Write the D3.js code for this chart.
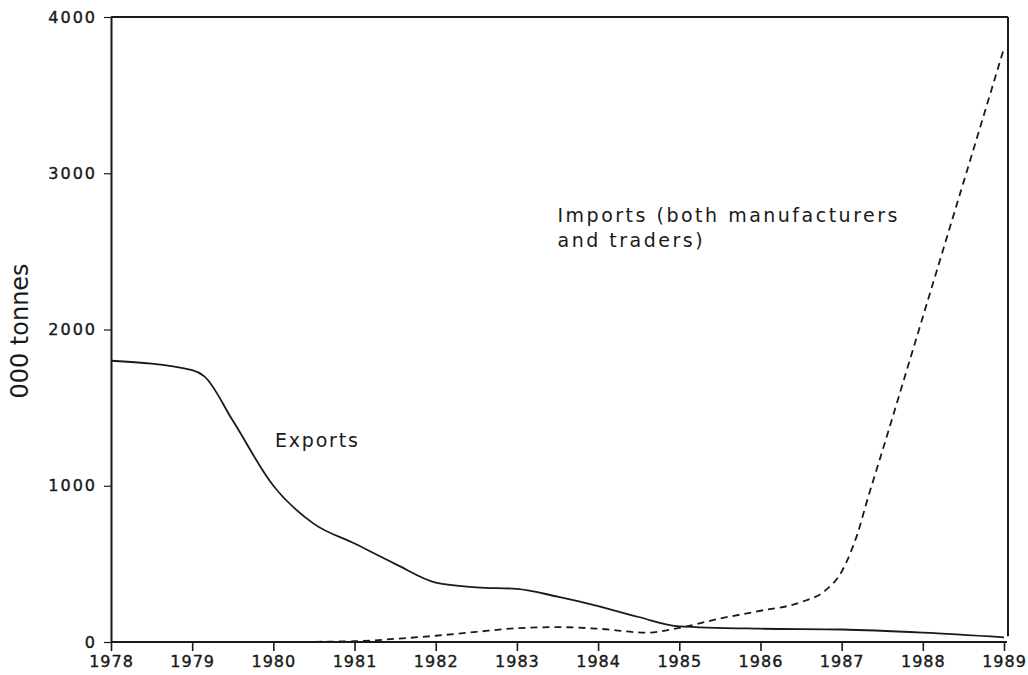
<!DOCTYPE html>
<html>
<head>
<meta charset="utf-8">
<script src="https://cdn.jsdelivr.net/npm/d3@7"></script>
<style>
  body { margin: 0; background: #fff; }
  text { font-family: "DejaVu Sans", sans-serif; fill: #1a1a1a; }
</style>
</head>
<body>
<div id="chart"></div>
<script>
// data (000 tonnes)
var exportYears = [1978, 1979, 1979.15, 1979.5, 1980, 1980.5, 1981, 1981.5, 1982, 1982.5, 1983, 1983.5, 1984, 1984.5, 1985, 1986, 1987, 1988, 1989];
var exportValues = [1800, 1740, 1700, 1417, 1000, 756, 630, 500, 380, 350, 340, 290, 230, 160, 100, 85, 80, 60, 30];

var importYears = [1978, 1979, 1980, 1981, 1981.5, 1982, 1982.5, 1983, 1983.5, 1984, 1984.6, 1985, 1985.5, 1986, 1986.5, 1986.8, 1987, 1987.1, 1987.2, 1987.3, 1987.5, 1988, 1988.5, 1989];
var importValues = [0, 0, 0, 5, 20, 40, 65, 88, 95, 85, 60, 90, 150, 200, 255, 330, 450, 560, 700, 880, 1220, 2080, 2940, 3800];

var xTicks = [1978, 1979, 1980, 1981, 1982, 1983, 1984, 1985, 1986, 1987, 1988, 1989];
var yTicks = [0, 1000, 2000, 3000, 4000];

var svgWidth = 1028;
var svgHeight = 675;

var margin = { top: 17, right: 24, bottom: 33, left: 111 };
var width = svgWidth - margin.left - margin.right;
var height = svgHeight - margin.top - margin.bottom;

var svg = d3.select("#chart")
  .append("svg")
  .attr("width", svgWidth)
  .attr("height", svgHeight);

var chartGroup = svg.append("g")
  .attr("transform", `translate(${margin.left}, ${margin.top})`);

var x = d3.scaleLinear().domain([1978, 1989]).range([0, 893]);
var y = d3.scaleLinear().domain([0, 4000]).range([height, 0]);

// axes
var bottomAxis = d3.axisBottom(x)
  .tickValues(xTicks)
  .tickFormat(d3.format("d"))
  .tickSize(9)
  .tickSizeOuter(0);

var leftAxis = d3.axisLeft(y)
  .tickValues(yTicks)
  .tickFormat(d3.format("d"))
  .tickSize(7)
  .tickSizeOuter(0);

var xAxis = chartGroup.append("g")
  .attr("transform", `translate(0, ${height})`)
  .call(bottomAxis);

var yAxis = chartGroup.append("g")
  .call(leftAxis);

xAxis.select(".domain").attr("stroke", "#1a1a1a").attr("stroke-width", 2)
  .attr("d", `M0,0H${x(1989) + 3}`);
yAxis.select(".domain").attr("stroke", "#1a1a1a").attr("stroke-width", 2);

xAxis.selectAll(".tick line").attr("stroke", "#1a1a1a").attr("stroke-width", 1.6);
yAxis.selectAll(".tick line").attr("stroke", "#1a1a1a").attr("stroke-width", 1.2);

// tick labels look a little heavier in the original
xAxis.selectAll(".tick text")
  .attr("y", 14)
  .attr("dy", "0.71em")
  .style("font-size", "16px")
  .style("letter-spacing", "1px")
  .style("stroke", "#1a1a1a")
  .style("stroke-width", "0.4px");

yAxis.selectAll(".tick text")
  .attr("x", -14)
  .style("font-size", "16px")
  .style("letter-spacing", "2px")
  .style("stroke", "#1a1a1a")
  .style("stroke-width", "0.4px");

// frame: top and right border
var frameRight = x(1989) + 4;
chartGroup.append("line")
  .attr("x1", 0).attr("x2", frameRight)
  .attr("y1", y(4000)).attr("y2", y(4000))
  .attr("stroke", "#1a1a1a").attr("stroke-width", 2);

chartGroup.append("line")
  .attr("x1", frameRight).attr("x2", frameRight)
  .attr("y1", y(4000)).attr("y2", y(exportValues[exportValues.length - 1]) - 1)
  .attr("stroke", "#1a1a1a").attr("stroke-width", 2);

// lines
var line = d3.line()
  .x(d => x(d[0]))
  .y(d => y(d[1]))
  .curve(d3.curveMonotoneX);

chartGroup.append("path")
  .datum(d3.zip(exportYears, exportValues))
  .attr("fill", "none")
  .attr("stroke", "#1a1a1a")
  .attr("stroke-width", 1.8)
  .attr("d", line);

chartGroup.append("path")
  .datum(d3.zip(importYears, importValues))
  .attr("fill", "none")
  .attr("stroke", "#1a1a1a")
  .attr("stroke-width", 1.8)
  .attr("stroke-dasharray", "7,5")
  .attr("d", line);

// labels
chartGroup.append("text")
  .attr("x", x(1980.02))
  .attr("y", y(1245))
  .style("font-size", "19px")
  .style("letter-spacing", "1.8px")
  .text("Exports");

var importLabel = chartGroup.append("text")
  .attr("x", x(1983.5))
  .attr("y", y(2687))
  .style("font-size", "19px")
  .style("letter-spacing", "2.5px");

importLabel.append("tspan").text("Imports (both manufacturers");
importLabel.append("tspan")
  .attr("x", x(1983.5))
  .attr("dy", 25)
  .text("and traders)");

svg.append("text")
  .attr("transform", `translate(28, 331) rotate(-90)`)
  .attr("text-anchor", "middle")
  .style("font-size", "24px")
  .text("000 tonnes");
</script>
</body>
</html>
